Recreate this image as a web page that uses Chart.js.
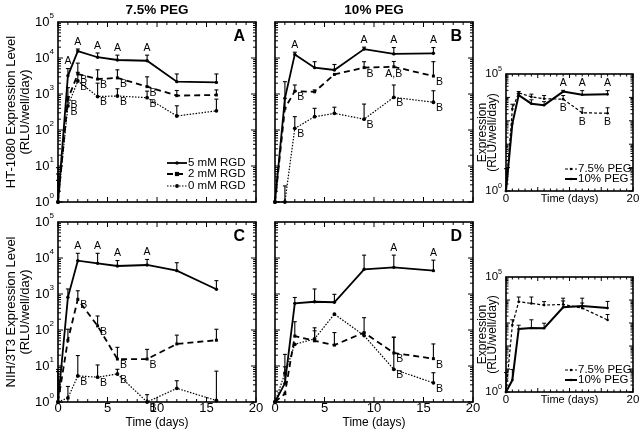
<!DOCTYPE html>
<html>
<head>
<meta charset="utf-8">
<title>Expression level over time</title>
<script src="https://cdn.jsdelivr.net/npm/chart.js@4.4.0/dist/chart.umd.min.js"></script>
<style>
  html, body { margin: 0; padding: 0; background: #fff; }
  #wrap { position: relative; width: 644px; height: 438px; background: #fff; }
  #wrap canvas { position: absolute; left: 0; top: 0; }
</style>
</head>
<body>
<div id="wrap">
  <canvas id="panel-a" width="644" height="438"></canvas>
  <canvas id="panel-b" width="644" height="438"></canvas>
  <canvas id="panel-c" width="644" height="438"></canvas>
  <canvas id="panel-d" width="644" height="438"></canvas>
  <canvas id="inset-top" width="644" height="438"></canvas>
  <canvas id="inset-bottom" width="644" height="438"></canvas>
</div>
<script>
// ---- data ----
const days = [0, 1, 2, 4, 6, 9, 12, 16];
const rgdLabels = ['5 mM RGD', '2 mM RGD', '0 mM RGD'];
const pegLabels = ['7.5% PEG', '10% PEG'];
const xTickLabels = [0, 5, 10, 15, 20];
const yDecades = [1, 10, 100, 1000, 10000, 100000];

// HT-1080, 7.5% PEG (panel A)
const ht75_5mM = [1, 3200, 15600, 10500, 8800, 8400, 2200, 2100];
const ht75_5mM_err = [9, 5100, 17800, 13800, 12000, 12000, 3600, 3600];
const ht75_2mM = [1, 720, 3600, 2600, 2800, 1600, 900, 940];
const ht75_2mM_err = [6, 1500, 7200, 4700, 4700, 3000, 1250, 1300];
const ht75_0mM = [1, 465, 2300, 850, 880, 790, 245, 340];
const ht75_0mM_err = [4, 850, 4000, 2000, 1400, 1200, 470, 720];

// HT-1080, 10% PEG (panel B)
const ht10_5mM = [1, 760, 12600, 5400, 4650, 17700, 13000, 13500];
const ht10_5mM_err = [1, 760, 14500, 7900, 6600, 20000, 19500, 19500];
const ht10_2mM = [1, 400, 1200, 1150, 3500, 5400, 5700, 3150];
const ht10_2mM_err = [1, 2200, 1780, 1300, 3500, 7900, 8000, 7900];
const ht10_0mM = [1, 1, 111, 234, 290, 200, 810, 590];
const ht10_0mM_err = [1, 2.8, 235, 400, 430, 525, 1780, 1230];

// NIH/3T3, 7.5% PEG (panel C)
const nih75_5mM = [1, 810, 8400, 7100, 6000, 6400, 4450, 1350];
const nih75_5mM_err = [7, 1380, 13500, 13500, 8500, 9100, 7400, 2350];
const nih75_2mM = [1, 52, 710, 130, 15.6, 15.6, 41, 52];
const nih75_2mM_err = [8, 105, 1230, 245, 33, 29, 72, 105];
const nih75_0mM = [1, 1.3, 5.3, 4.9, 6, 1, 2.4, 1.1];
const nih75_0mM_err = [1, 2.7, 19.5, 10.7, 8.1, 1.6, 3.9, 7.2];

// NIH/3T3, 10% PEG (panel D)
const nih10_5mM = [1, 3.3, 550, 610, 590, 4850, 5500, 4450];
const nih10_5mM_err = [1, 9.5, 800, 1380, 980, 12000, 12000, 8700];
const nih10_2mM = [1, 1.7, 68, 50, 38, 85, 23, 16];
const nih10_2mM_err = [1, 1.7, 170, 115, 85, 220, 63, 41];
const nih10_0mM = [1, 6.3, 40, 57, 277, 70, 8.1, 3.4];
const nih10_0mM_err = [1, 21, 40, 95, 277, 70, 63, 6.5];

// significance letters
const letters75_5mM = ['', 'A', 'A', 'A', 'A', 'A', '', ''];
const letters75_low = ['', 'B', 'B', 'B', 'B', 'B', '', ''];
const lettersB_5mM = ['', '', 'A', '', '', 'A', 'A', 'A'];
const lettersB_2mM = ['', '', 'B', '', '', 'B', 'A,B', 'B'];
const lettersB_0mM = ['', '', 'B', '', '', 'B', 'B', 'B'];
const lettersC_5mM = ['', '', 'A', 'A', 'A', 'A', '', ''];
const lettersC_low = ['', '', 'B', 'B', 'B', 'B', '', ''];
const lettersD_5mM = ['', '', '', '', '', '', 'A', 'A'];
const lettersD_low = ['', '', '', '', '', '', 'B', 'B'];
const lettersInset75 = ['', '', '', '', '', 'B', 'B', 'B'];
const lettersInset10 = ['', '', '', '', '', 'A', 'A', 'A'];

// ---- styles ----
const FONT = "'Liberation Sans', Arial, Helvetica, sans-serif";
const STYLE = {
  rgd5: { borderWidth: 1.8, borderDash: [], pointStyle: 'circle', pointRadius: 1.7 },
  rgd2: { borderWidth: 1.8, borderDash: [6, 4], pointStyle: 'rect', pointRadius: 2.1 },
  rgd0: { borderWidth: 1.2, borderDash: [1.5, 1.5], pointStyle: 'circle', pointRadius: 1.9 },
  peg75: { borderWidth: 1.2, borderDash: [3, 2], pointStyle: 'circle', pointRadius: 1.3 },
  peg10: { borderWidth: 2, borderDash: [], pointStyle: 'circle', pointRadius: 1.3 }
};

function series(label, values, errTop, letters, style) {
  return Object.assign({
    label: label,
    data: days.map((d, i) => ({ x: d, y: values[i] })),
    errTop: errTop,
    letters: letters,
    borderColor: '#000',
    backgroundColor: '#000',
    pointBackgroundColor: '#000',
    pointBorderWidth: 0,
    tension: 0,
    fill: false,
    clip: false
  }, style);
}

function text(ctx, str, x, y, size, weight, align, baseline) {
  ctx.font = (weight || 'normal') + ' ' + size + 'px ' + FONT;
  ctx.textAlign = align || 'center';
  ctx.textBaseline = baseline || 'middle';
  ctx.fillText(str, x, y);
}

function powerLabel(ctx, value, xRight, y, size) {
  const sup = String(Math.round(Math.log10(value)));
  const supSize = size * 0.62;
  ctx.font = size + 'px ' + FONT;
  const wBase = ctx.measureText('10').width;
  ctx.font = supSize + 'px ' + FONT;
  const wSup = ctx.measureText(sup).width;
  const x0 = xRight - wBase - wSup;
  text(ctx, '10', x0, y, size, 'normal', 'left', 'middle');
  text(ctx, sup, x0 + wBase, y - size * 0.45, supSize, 'normal', 'left', 'middle');
}

function seg(ctx, x1, y1, x2, y2) {
  ctx.beginPath();
  ctx.moveTo(x1, y1);
  ctx.lineTo(x2, y2);
  ctx.stroke();
}

// Draws frame, inward ticks, tick labels, error bars, letters, titles and legend
const figurePlugin = {
  id: 'figure',
  afterDatasetsDraw(chart, args, o) {
    const ctx = chart.ctx;
    const a = chart.chartArea;
    const xs = chart.scales.x;
    const ys = chart.scales.y;
    ctx.save();
    ctx.strokeStyle = '#000';
    ctx.fillStyle = '#000';
    ctx.setLineDash([]);

    // error bars and letters
    chart.data.datasets.forEach(ds => {
      ds.data.forEach((p, j) => {
        const px = xs.getPixelForValue(p.x);
        const py = ys.getPixelForValue(p.y);
        let ey = py;
        const top = ds.errTop[j];
        if (top > p.y) {
          ey = ys.getPixelForValue(top);
          ctx.lineWidth = o.errWidth;
          seg(ctx, px, py, px, ey);
          seg(ctx, px - o.cap, ey, px + o.cap, ey);
        }
        const letter = ds.letters ? ds.letters[j] : '';
        if (!letter) return;
        if (letter === 'A') {
          text(ctx, letter, px, ey - o.aGap, o.letterSize, 'normal', 'center', 'bottom');
        } else if (letter.length > 1) {
          text(ctx, letter, px, py + o.bdy + 1, o.letterSize, 'normal', 'center', 'middle');
        } else {
          text(ctx, letter, px + o.bdx, py + o.bdy, o.letterSize, 'normal', 'center', 'middle');
        }
      });
    });

    // frame
    ctx.lineWidth = o.frameWidth;
    ctx.strokeRect(a.left, a.top, a.right - a.left, a.bottom - a.top);

    // x ticks (inward, bottom and top)
    ctx.lineWidth = 1;
    for (let t = xs.min; t <= xs.max; t += 1) {
      const px = xs.getPixelForValue(t);
      const len = t % 5 === 0 ? o.majorLen : o.minorLen;
      seg(ctx, px, a.bottom, px, a.bottom - len);
      seg(ctx, px, a.top, px, a.top + len);
    }
    // y ticks (log, inward, left and right)
    for (let d = 1; d < ys.max; d *= 10) {
      for (let m = 1; m <= 9; m++) {
        const py = ys.getPixelForValue(d * m);
        const len = m === 1 ? o.majorLen : o.minorLen;
        seg(ctx, a.left, py, a.left + len, py);
        seg(ctx, a.right, py, a.right - len, py);
      }
    }

    // tick labels
    o.yLabels.forEach(v => powerLabel(ctx, v, a.left - o.yLabelGap, ys.getPixelForValue(v), o.tickSize));
    o.xLabels.forEach(v => text(ctx, String(v), xs.getPixelForValue(v), a.bottom + o.xLabelGap, o.tickSize));

    // axis titles
    if (o.xTitle) {
      text(ctx, o.xTitle, (a.left + a.right) / 2, a.bottom + o.xTitleGap, o.xTitleSize);
    }
    if (o.yTitle) {
      const cy = (a.top + a.bottom) / 2;
      o.yTitle.forEach((line, i) => {
        ctx.save();
        ctx.translate(a.left - o.yTitleOffsets[i], cy);
        ctx.rotate(-Math.PI / 2);
        text(ctx, line, 0, 0, o.yTitleSize);
        ctx.restore();
      });
    }
    if (o.title) {
      text(ctx, o.title, (a.left + a.right) / 2, a.top - 12, 13.5, 'bold');
    }
    if (o.tag) {
      text(ctx, o.tag, a.right - 11, a.top + 15, 16, 'bold', 'right', 'middle');
    }

    // legend inside the plot area, bottom right
    if (o.legend) {
      const L = o.legend;
      chart.data.datasets.forEach((ds, i) => {
        const y = a.bottom - L.dy[i];
        const x0 = a.right - L.dx;
        ctx.lineWidth = ds.borderWidth;
        ctx.setLineDash(ds.borderDash);
        seg(ctx, x0, y, x0 + L.len, y);
        ctx.setLineDash([]);
        const r = ds.pointRadius;
        const mx = x0 + L.len / 2;
        if (ds.pointStyle === 'rect') {
          ctx.fillRect(mx - r, y - r, 2 * r, 2 * r);
        } else {
          ctx.beginPath();
          ctx.arc(mx, y, r, 0, Math.PI * 2);
          ctx.fill();
        }
        text(ctx, ds.label, x0 + L.len + 1, y, L.size, 'normal', 'left', 'middle');
      });
    }
    ctx.restore();
  }
};

const MAIN = {
  errWidth: 1.1, cap: 2, aGap: 2, bdx: 6, bdy: 6, letterSize: 10.5,
  frameWidth: 1.6, majorLen: 5, minorLen: 3,
  tickSize: 13, yLabelGap: 4, xLabelGap: 6,
  xTitleSize: 12, xTitleGap: 21,
  yTitleSize: 13, yTitleOffsets: [47, 33]
};
const INSET = {
  errWidth: 1, cap: 2, aGap: 2, bdx: 0, bdy: 9, letterSize: 10.5,
  frameWidth: 1.6, majorLen: 4, minorLen: 2.5,
  tickSize: 11.5, yLabelGap: 4, xLabelGap: 8, xTitleSize: 11, xTitleGap: 8,
  yTitleSize: 12, yTitleOffsets: [23, 13],
  yLabels: [1, 100000], xLabels: [0, 20],
  xTitle: 'Time (days)', yTitle: ['Expression', '(RLU/well/day)'],
  legend: { dx: 68, dy: [22, 12], len: 12, size: 11.5 }
};

function makePanel(id, area, datasets, opts) {
  return new Chart(document.getElementById(id), {
    type: 'line',
    data: { datasets: datasets },
    options: {
      responsive: false,
      animation: false,
      events: [],
      layout: {
        padding: { left: area.left, top: area.top, right: 644 - area.right, bottom: 438 - area.bottom }
      },
      plugins: {
        legend: { display: false },
        tooltip: { enabled: false },
        figure: opts
      },
      scales: {
        x: { type: 'linear', min: 0, max: 20, display: false },
        y: { type: 'logarithmic', min: 1, max: 100000, display: false }
      }
    },
    plugins: [figurePlugin]
  });
}

makePanel('panel-a', { left: 58, top: 22, right: 256, bottom: 202 }, [
  series(rgdLabels[0], ht75_5mM, ht75_5mM_err, letters75_5mM, STYLE.rgd5),
  series(rgdLabels[1], ht75_2mM, ht75_2mM_err, letters75_low, STYLE.rgd2),
  series(rgdLabels[2], ht75_0mM, ht75_0mM_err, letters75_low, STYLE.rgd0)
], Object.assign({}, MAIN, {
  title: '7.5% PEG', tag: 'A', yLabels: yDecades, xLabels: [],
  yTitle: ['HT-1080 Expression Level', '(RLU/well/day)'],
  legend: { dx: 89, dy: [39, 28, 16], len: 20, size: 11.5 }
}));

makePanel('panel-b', { left: 275, top: 22, right: 473, bottom: 202 }, [
  series(rgdLabels[0], ht10_5mM, ht10_5mM_err, lettersB_5mM, STYLE.rgd5),
  series(rgdLabels[1], ht10_2mM, ht10_2mM_err, lettersB_2mM, STYLE.rgd2),
  series(rgdLabels[2], ht10_0mM, ht10_0mM_err, lettersB_0mM, STYLE.rgd0)
], Object.assign({}, MAIN, { title: '10% PEG', tag: 'B', yLabels: [], xLabels: [] }));

makePanel('panel-c', { left: 58, top: 222, right: 256, bottom: 402 }, [
  series(rgdLabels[0], nih75_5mM, nih75_5mM_err, lettersC_5mM, STYLE.rgd5),
  series(rgdLabels[1], nih75_2mM, nih75_2mM_err, lettersC_low, STYLE.rgd2),
  series(rgdLabels[2], nih75_0mM, nih75_0mM_err, lettersC_low, STYLE.rgd0)
], Object.assign({}, MAIN, {
  tag: 'C', yLabels: yDecades, xLabels: xTickLabels, xTitle: 'Time (days)',
  yTitle: ['NIH/3T3 Expression Level', '(RLU/well/day)']
}));

makePanel('panel-d', { left: 275, top: 222, right: 473, bottom: 402 }, [
  series(rgdLabels[0], nih10_5mM, nih10_5mM_err, lettersD_5mM, STYLE.rgd5),
  series(rgdLabels[1], nih10_2mM, nih10_2mM_err, lettersD_low, STYLE.rgd2),
  series(rgdLabels[2], nih10_0mM, nih10_0mM_err, lettersD_low, STYLE.rgd0)
], Object.assign({}, MAIN, {
  tag: 'D', yLabels: [], xLabels: xTickLabels, xTitle: 'Time (days)'
}));

makePanel('inset-top', { left: 506, top: 74, right: 633, bottom: 191 }, [
  series(pegLabels[0], ht75_5mM, ht75_5mM_err, lettersInset75, STYLE.peg75),
  series(pegLabels[1], ht10_5mM, ht10_5mM_err, lettersInset10, STYLE.peg10)
], INSET);

makePanel('inset-bottom', { left: 506, top: 277, right: 633, bottom: 392 }, [
  series(pegLabels[0], nih75_5mM, nih75_5mM_err, null, STYLE.peg75),
  series(pegLabels[1], nih10_5mM, nih10_5mM_err, null, STYLE.peg10)
], INSET);
</script>
</body>
</html>
